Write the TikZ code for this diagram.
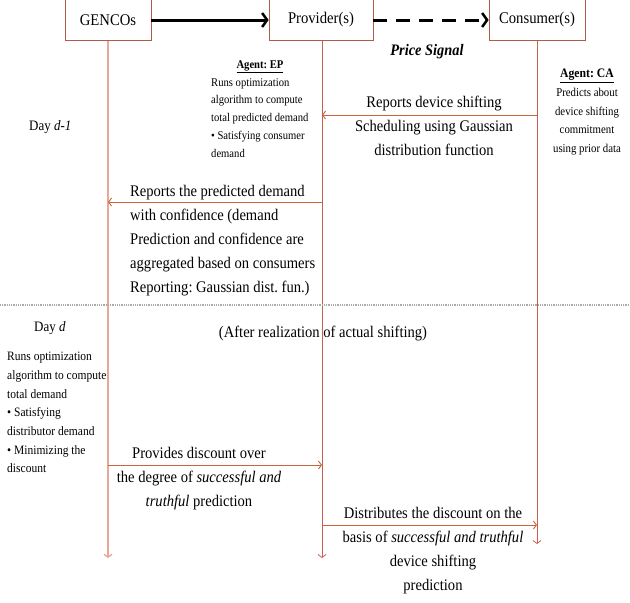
\documentclass[tikz,border=0pt]{standalone}
\usepackage{fontspec}
\setmainfont{Liberation Serif}[FakeStretch=0.9]
\usetikzlibrary{arrows.meta}
\definecolor{boxline}{RGB}{176,90,74}
\definecolor{lifeA}{RGB}{232,168,152}
\definecolor{lifeB}{RGB}{196,96,76}
\definecolor{msg}{RGB}{200,100,60}
\definecolor{sep}{RGB}{170,170,170}
\frenchspacing
\begin{document}
\begin{tikzpicture}[x=1pt,y=-1pt,
  actor/.style={draw=boxline,line width=0.7pt,minimum width=#1,minimum height=41pt,inner sep=0pt,font=\fontsize{16.3}{18}\selectfont},
  lifeline/.style={-{Straight Barb[length=3pt,width=8pt]}},
  message/.style={draw=msg,line width=0.9pt,-{Straight Barb[length=3pt,width=8pt]}},
  bigtext/.style={inner sep=0pt,font=\fontsize{16.2}{24}\selectfont},
  smalltext/.style={inner sep=0pt,font=\fontsize{11.8}{17.8}\selectfont},
  catext/.style={inner sep=0pt,font=\fontsize{12}{18.6}\selectfont},
  midtext/.style={inner sep=0pt,font=\fontsize{12.8}{18.7}\selectfont}]
\useasboundingbox (0,0) rectangle (630,603);
\fill[white] (0,0) rectangle (630,603);
% actors
\node[actor=86pt] (gen) at (108,20) {GENCOs};
\node[actor=104pt] (prov) at (321,20) {Provider(s)};
\node[actor=96pt] (cons) at (537,20) {Consumer(s)};
% top arrows
\draw[line width=3pt,-{Straight Barb[length=5pt,width=14pt,line width=2.5pt]}] (gen.east) -- (prov.west);
\draw[line width=3pt,dash pattern=on 14pt off 9pt,-{Straight Barb[length=5pt,width=14pt,line width=2.5pt]}] (prov.east) -- (cons.west);
\node[inner sep=0pt,font=\fontsize{16}{18}\selectfont\bfseries\itshape] (price) at (427,52) {Price Signal};
% lifeline ends
\coordinate (genE) at (108,558);
\coordinate (provE) at (322,558);
\coordinate (consE) at (537,544);
\draw[lifeline,draw=lifeA,line width=1.3pt] (gen.south -| genE) -- (genE);
\draw[lifeline,draw=lifeB,line width=0.8pt] (prov.south -| provE) -- (provE);
\draw[lifeline,draw=lifeB,line width=0.8pt] (cons.south -| consE) -- (consE);
% separator
\draw[sep,line width=1.6pt,dash pattern=on 1pt off 0.8pt] (0,305) -- (630,305);
% day labels
\node[bigtext,font=\fontsize{14.4}{20}\selectfont,anchor=west] (dayA) at (29,127) {Day \textit{d-1}};
\node[bigtext,font=\fontsize{14.4}{20}\selectfont,anchor=west] (dayB) at (34,328) {Day \textit{d}};
% agent EP
\node[smalltext,font=\fontsize{11.8}{13}\selectfont] (epT) at (260,67) {\underline{\textbf{Agent: EP}}};
\node[smalltext,anchor=north west,align=left] (epX) at (211,78) {Runs optimization\\algorithm to compute\\total predicted demand\\\textbullet\ Satisfying consumer\\demand};
% agent CA
\node[catext,font=\fontsize{13}{14}\selectfont] (caT) at (587,76) {\underline{\textbf{Agent: CA}}};
\node[catext,anchor=north,align=center] (caX) at (587,88) {Predicts about\\device shifting\\commitment\\using prior data};
% messages day d-1
\coordinate (c1) at (537,115);
\coordinate (p1) at (322,115);
\draw[message] (c1) -- (p1);
\node[bigtext,align=center,anchor=north] (m1) at (434,96) {Reports device shifting\\Scheduling using Gaussian\\distribution function};
\coordinate (p2) at (322,202);
\coordinate (g2) at (108,202);
\draw[message] (p2) -- (g2);
\node[bigtext,align=left,anchor=north west] (m2) at (130,185) {Reports the predicted demand\\with confidence (demand\\Prediction and confidence are\\aggregated based on consumers\\Reporting: Gaussian dist. fun.)};
% day d
\node[bigtext] (after) at (323,334) {(After realization of actual shifting)};
\node[midtext,anchor=north west,align=left] (gtx) at (7,352) {Runs optimization\\algorithm to compute\\total demand\\\textbullet\ Satisfying\\distributor demand\\\textbullet\ Minimizing the\\discount};
\coordinate (g3) at (108,465);
\coordinate (p3) at (322,465);
\draw[message] (g3) -- (p3);
\node[bigtext,align=center,anchor=north] (m3) at (199,447) {Provides discount over\\the degree of \textit{successful and}\\\textit{truthful} prediction};
\coordinate (p4) at (322,525);
\coordinate (c4) at (537,525);
\draw[message] (p4) -- (c4);
\node[bigtext,align=center,anchor=north] (m4) at (433,507) {Distributes the discount on the\\basis of \textit{successful and truthful}\\device shifting\\prediction};
\end{tikzpicture}
\end{document}
